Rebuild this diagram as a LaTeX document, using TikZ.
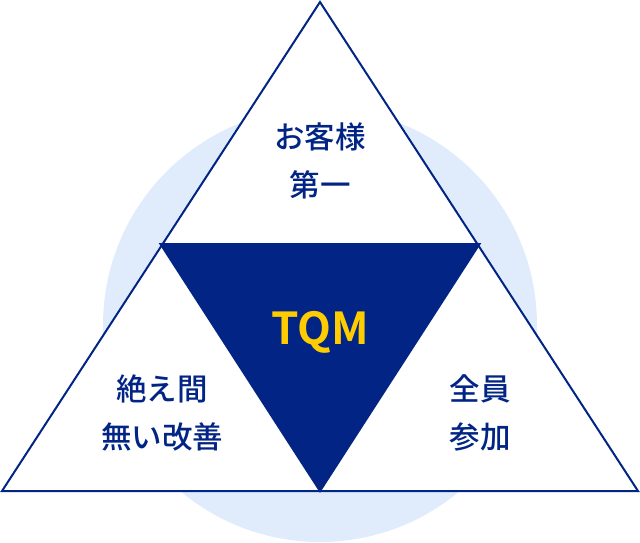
\documentclass[tikz,border=0pt]{standalone}
\usepackage{fontspec}
\newfontfamily\jp{Noto Sans CJK JP Medium}
\newfontfamily\jpbold{Noto Sans CJK JP Bold}
\definecolor{navy}{HTML}{022585}
\definecolor{pale}{HTML}{E0ECFB}
\definecolor{gold}{HTML}{FFCC00}
\tikzset{
  label/.style={font=\jp\fontsize{30.5}{48}\selectfont, text=navy, align=center, inner sep=0pt},
  edge/.style={draw=navy, line width=2pt, line join=miter},
}
\begin{document}
\begin{tikzpicture}[x=1pt,y=-1pt]
\useasboundingbox (0,0) rectangle (640,542);
\fill[pale] (320,325) circle (217);
\coordinate (A) at (320,2);
\coordinate (L) at (2,491);
\coordinate (R) at (638,491);
\coordinate (P) at (160.5,244);
\coordinate (Q) at (479.5,244);
\coordinate (B) at (320,491);
\fill[white] (A) -- (L) -- (R) -- cycle;
\fill[navy] (P) -- (Q) -- (B) -- cycle;
\draw[edge] (A) -- (L) -- (R) -- cycle;
\draw[edge] (P) -- (Q) -- (B) -- cycle;
\node[label] (top) at (320,161) {お客様\\第一};
\node[label] (left) at (162,413) {絶え間\\無い改善};
\node[label] (right) at (480,413) {全員\\参加};
\node[font=\jpbold\fontsize{44}{44}\selectfont, text=gold, inner sep=0pt] (tqm) at (320,332) {TQM};
\end{tikzpicture}
\end{document}
